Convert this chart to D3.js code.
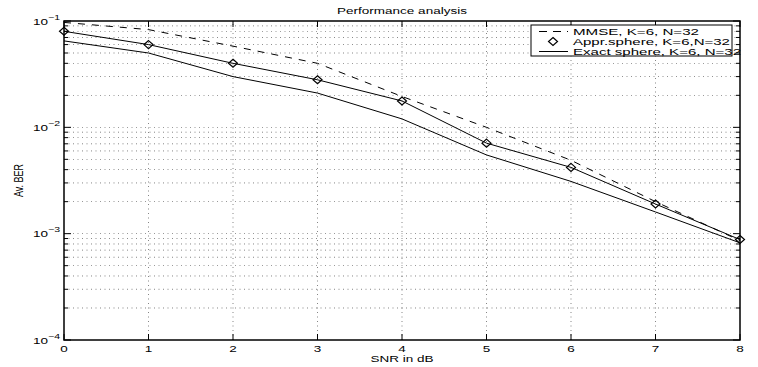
<!DOCTYPE html>
<html lang="en">
<head>
<meta charset="UTF-8">
<title>Performance analysis</title>
<script src="https://cdn.jsdelivr.net/npm/d3@7"></script>
<style>
    body { margin: 0; background: #fff; }
    text { font-family: "Liberation Sans", Arial, sans-serif; font-size: 9px; fill: #000; }
    .grid { stroke: #000; stroke-width: 0.6; stroke-dasharray: 1 3.5; opacity: 0.8; }
    .tick-in { stroke: #000; stroke-width: 1; }
    .line { fill: none; stroke: #000; stroke-width: 1; }
</style>
</head>
<body>
<div id="chart"></div>
<script>
    const width = 758;
    const height = 367;
    const margin = {top: 21, right: 18, bottom: 27, left: 64};
    const stretch = 1.5; // the original text is drawn wide

    // data
    const snr = [0, 1, 2, 3, 4, 5, 6, 7, 8];
    const mmse = [0.097, 0.083, 0.058, 0.040, 0.0195, 0.010, 0.0049, 0.002, 0.00086];
    const apprSphere = [0.080, 0.060, 0.040, 0.028, 0.0177, 0.0071, 0.0042, 0.0019, 0.00088];
    const exactSphere = [0.065, 0.050, 0.030, 0.021, 0.012, 0.0055, 0.0031, 0.0016, 0.00082];
    const legendLabels = ["MMSE, K=6, N=32", "Appr.sphere, K=6,N=32", "Exact sphere, K=6, N=32"];
    const yDecades = [-4, -3, -2, -1];

    const x = d3.scaleLinear().domain([0, 8]).range([margin.left, width - margin.right]);
    const y = d3.scaleLog().domain([1e-4, 1e-1]).range([height - margin.bottom, margin.top]);

    const svg = d3.select("#chart").append("svg")
        .attr("width", width).attr("height", height);

    const x0 = x.range()[0], x1 = x.range()[1];
    const y0 = y.range()[0], y1 = y.range()[1];

    // wide text helper
    function wideText(g, px, py, str, anchor) {
        return g.append("text")
            .attr("transform", `translate(${px},${py}) scale(${stretch},1)`)
            .attr("text-anchor", anchor || "start")
            .text(str);
    }

    // minor y values
    const minors = [];
    yDecades.slice(0, 3).forEach(e => {
        for (let m = 2; m <= 9; m++) minors.push(m * Math.pow(10, e));
    });
    const majors = yDecades.map(e => Math.pow(10, e));

    // grid
    const grid = svg.append("g");
    grid.selectAll("line.gx").data(snr.slice(1, -1)).enter().append("line")
        .attr("class", "grid")
        .attr("x1", d => x(d)).attr("x2", d => x(d))
        .attr("y1", y0).attr("y2", y1);
    grid.selectAll("line.gy").data(minors.concat(majors.slice(1, -1))).enter().append("line")
        .attr("class", "grid")
        .attr("x1", x0).attr("x2", x1)
        .attr("y1", d => y(d)).attr("y2", d => y(d));

    // ticks inside on all sides
    const ticks = svg.append("g");
    snr.forEach(d => {
        ticks.append("line").attr("class", "tick-in")
            .attr("x1", x(d)).attr("x2", x(d)).attr("y1", y0).attr("y2", y0 - 6);
        ticks.append("line").attr("class", "tick-in")
            .attr("x1", x(d)).attr("x2", x(d)).attr("y1", y1).attr("y2", y1 + 6);
    });
    majors.forEach(d => {
        ticks.append("line").attr("class", "tick-in")
            .attr("x1", x0).attr("x2", x0 + 7).attr("y1", y(d)).attr("y2", y(d));
        ticks.append("line").attr("class", "tick-in")
            .attr("x1", x1).attr("x2", x1 - 7).attr("y1", y(d)).attr("y2", y(d));
    });
    minors.forEach(d => {
        ticks.append("line").attr("class", "tick-in")
            .attr("x1", x0).attr("x2", x0 + 4).attr("y1", y(d)).attr("y2", y(d));
        ticks.append("line").attr("class", "tick-in")
            .attr("x1", x1).attr("x2", x1 - 4).attr("y1", y(d)).attr("y2", y(d));
    });

    // axes box
    svg.append("rect")
        .attr("x", x0).attr("y", y1)
        .attr("width", x1 - x0).attr("height", y0 - y1)
        .attr("fill", "none").attr("stroke", "#000").attr("stroke-width", 1.5);

    // tick labels
    const tl = svg.append("g");
    snr.forEach(d => wideText(tl, x(d), y0 + 12, d, "middle"));

    yDecades.forEach(e => {
        const t = wideText(tl, x0 - 4, y(Math.pow(10, e)) + 3.5, "", "end");
        t.append("tspan").text("10");
        t.append("tspan").attr("dy", -5).attr("font-size", "7px").text("\u2212" + (-e));
    });

    // labels
    wideText(svg, (x0 + x1) / 2, 14, "Performance analysis", "middle");
    wideText(svg, (x0 + x1) / 2, 362, "SNR in dB", "middle");
    svg.append("text")
        .attr("transform", `translate(23,${(y0 + y1) / 2}) scale(${stretch},1) rotate(-90)`)
        .attr("text-anchor", "middle").attr("font-size", "8.5px").text("Av. BER");

    // series
    const line = d3.line().x((d, i) => x(snr[i])).y(d => y(d));
    const plot = svg.append("g");
    plot.append("path").datum(mmse).attr("class", "line")
        .attr("stroke-dasharray", "7 7").attr("d", line);
    plot.append("path").datum(apprSphere).attr("class", "line").attr("d", line);
    plot.append("path").datum(exactSphere).attr("class", "line").attr("d", line);

    const diamond = "M0,-4L4.5,0L0,4L-4.5,0Z";
    plot.selectAll("path.mk").data(apprSphere).enter().append("path")
        .attr("d", diamond)
        .attr("transform", (d, i) => `translate(${x(snr[i])},${y(d)})`)
        .attr("fill", "none").attr("stroke", "#000").attr("stroke-width", 1.2);

    // legend
    const lg = svg.append("g");
    lg.append("rect").attr("x", 531).attr("y", 25).attr("width", 201).attr("height", 31)
        .attr("fill", "#fff").attr("stroke", "#000").attr("stroke-width", 1);
    const rows = [31.5, 41.5, 51.5];
    lg.append("line").attr("class", "line").attr("stroke-dasharray", "8 6")
        .attr("x1", 539).attr("x2", 568).attr("y1", rows[0]).attr("y2", rows[0]);
    lg.append("path").attr("d", diamond)
        .attr("transform", `translate(553,${rows[1]})`)
        .attr("fill", "none").attr("stroke", "#000").attr("stroke-width", 1.2);
    lg.append("line").attr("class", "line")
        .attr("x1", 539).attr("x2", 568).attr("y1", rows[2]).attr("y2", rows[2]);
    const legendWidths = [126, 157, 168];
    lg.selectAll("text").data(legendLabels).enter().append("text")
        .attr("x", 573).attr("y", (d, i) => rows[i] + 3.5)
        .attr("font-size", "8.5px")
        .attr("textLength", (d, i) => legendWidths[i])
        .attr("lengthAdjust", "spacingAndGlyphs")
        .text(d => d);
</script>
</body>
</html>
